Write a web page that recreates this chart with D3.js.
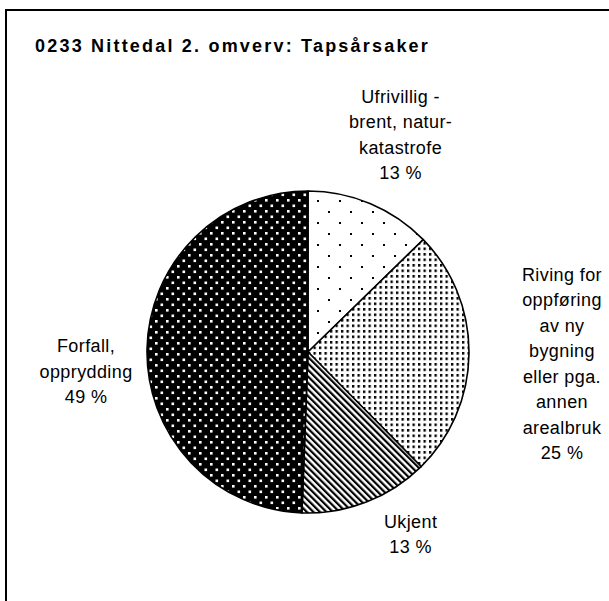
<!DOCTYPE html>
<html>
<head>
<meta charset="utf-8">
<script src="https://cdn.jsdelivr.net/npm/d3@7"></script>
<style>
  html, body { margin: 0; padding: 0; background: #fff; }
  svg { display: block; }
  text { font-family: "Liberation Sans", Arial, sans-serif; fill: #000; }
</style>
</head>
<body>
<svg id="chart"></svg>
<script>
const title      = '0233 Nittedal 2. omverv: Tapsårsaker'
const categories = ['Ufrivillig - brent, naturkatastrofe', 'Riving for oppføring av ny bygning eller pga. annen arealbruk', 'Ukjent', 'Forfall, opprydding']
const shares     = [12.7, 24.9, 13.0, 49.4]
const labelLines = [
  ['Ufrivillig -', 'brent, natur-', 'katastrofe'],
  ['Riving for', 'oppføring', 'av ny', 'bygning', 'eller pga.', 'annen', 'arealbruk'],
  ['Ukjent'],
  ['Forfall,', 'opprydding']
]
const patterns   = ['sparse', 'dense', 'diag', 'dark']

const
  width   = 609,
  height  = 601,
  cx      = 308,
  cy      = 352,
  radius  = 161,
  lineH   = 25.5

// label nudges (text layout only)
const nudges = [[4, -7], [26, 10], [20, -30], [6, 24]]

const svg = d3.select('#chart')
  .attr('width', width)
  .attr('height', height)

const defs = svg.append('defs')

// sparse dots
{
  const p = defs.append('pattern').attr('id', 'sparse')
    .attr('patternUnits', 'userSpaceOnUse').attr('width', 22).attr('height', 22)
    .attr('x', cx + 9).attr('y', cy + 2)
  p.append('rect').attr('width', 22).attr('height', 22).attr('fill', '#fff')
  p.append('rect').attr('x', 0).attr('y', 0).attr('width', 2).attr('height', 2).attr('fill', '#000')
  p.append('rect').attr('x', 11).attr('y', 11).attr('width', 2).attr('height', 2).attr('fill', '#000')
}
// dense dots
{
  const p = defs.append('pattern').attr('id', 'dense')
    .attr('patternUnits', 'userSpaceOnUse').attr('width', 5.5).attr('height', 5.5)
  p.append('rect').attr('width', 5.5).attr('height', 5.5).attr('fill', '#fff')
  p.append('rect').attr('x', 0).attr('y', 0).attr('width', 2.3).attr('height', 2.6).attr('fill', '#000')
}
// diagonal stripes
{
  const p = defs.append('pattern').attr('id', 'diag')
    .attr('patternUnits', 'userSpaceOnUse').attr('width', 4.6).attr('height', 10)
    .attr('patternTransform', 'rotate(-45)')
  p.append('rect').attr('width', 4.6).attr('height', 10).attr('fill', '#fff')
  p.append('rect').attr('x', 0).attr('y', 0).attr('width', 2.2).attr('height', 10).attr('fill', '#000')
}
// dark with white dots
{
  const p = defs.append('pattern').attr('id', 'dark')
    .attr('patternUnits', 'userSpaceOnUse').attr('width', 11).attr('height', 11)
  p.append('rect').attr('width', 11).attr('height', 11).attr('fill', '#000')
  p.append('rect').attr('x', 1).attr('y', 1).attr('width', 2.6).attr('height', 2.6).attr('fill', '#fff')
  p.append('rect').attr('x', 6.5).attr('y', 6.5).attr('width', 2.6).attr('height', 2.6).attr('fill', '#fff')
}

// frame
svg.append('rect')
  .attr('x', 6).attr('y', 10)
  .attr('width', width + 10).attr('height', height + 10)
  .attr('fill', '#fff')
  .attr('stroke', '#000')
  .attr('stroke-width', 2)

svg.append('text')
  .attr('x', 35).attr('y', 52)
  .attr('font-size', 18)
  .attr('font-weight', 'bold')
  .attr('letter-spacing', 2.2)
  .text(title)

const data = categories.map((c, i) => ({ name: c, value: shares[i], lines: labelLines[i], pattern: patterns[i] }))

const pie = d3.pie().sort(null).value(d => d.value)
const arcs = pie(data)
const arc = d3.arc().innerRadius(0).outerRadius(radius)
const labelArc = d3.arc().innerRadius(228).outerRadius(228)

const g = svg.append('g').attr('transform', `translate(${cx},${cy})`)

g.selectAll('path.slice')
  .data(arcs)
  .join('path')
  .attr('class', 'slice')
  .attr('d', arc)
  .attr('fill', d => `url(#${d.data.pattern})`)
  .attr('stroke', '#000')
  .attr('stroke-width', 1.6)
  .attr('stroke-linejoin', 'round')

const fmt = d3.format('.0f')

g.selectAll('text.label')
  .data(arcs)
  .join('text')
  .attr('class', 'label')
  .attr('text-anchor', 'middle')
  .attr('font-size', 18)
  .attr('letter-spacing', 0.4)
  .each(function(d, i)
  {
    const
      [x, y] = labelArc.centroid(d),
      rows   = d.data.lines.concat([fmt(d.data.value) + ' %']),
      top    = y + nudges[i][1] - (rows.length - 1) * lineH / 2 + 6

    d3.select(this).selectAll('tspan')
      .data(rows)
      .join('tspan')
      .attr('x', x + nudges[i][0])
      .attr('y', (r, k) => top + k * lineH)
      .text(r => r)
  })
</script>
</body>
</html>
